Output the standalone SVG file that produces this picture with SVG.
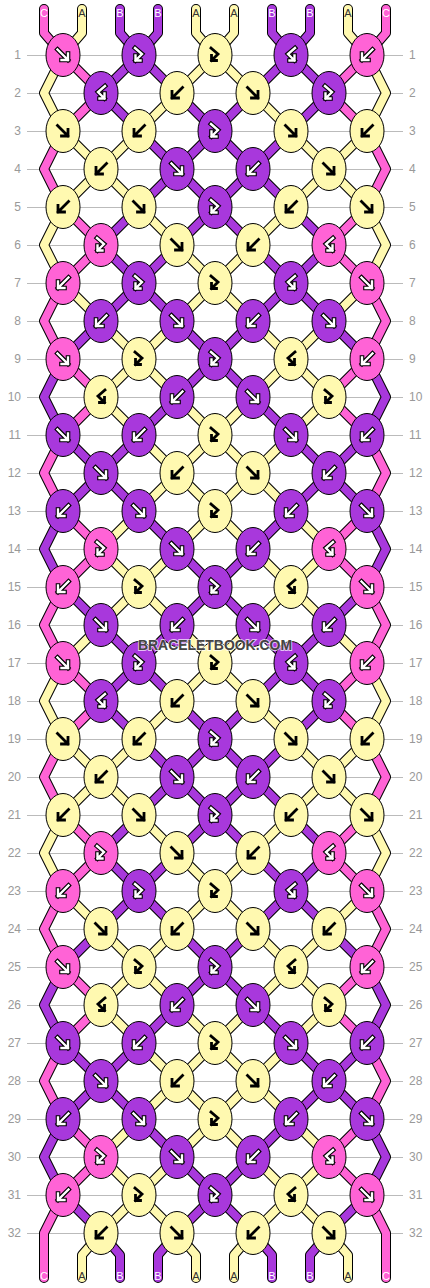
<svg xmlns="http://www.w3.org/2000/svg" xmlns:xlink="http://www.w3.org/1999/xlink" width="430" height="1288" viewBox="0 0 430 1288">
<style>
.o{fill:none;stroke:#000;stroke-width:10;stroke-linejoin:round;stroke-linecap:round}
.c{fill:none;stroke-width:8;stroke-linejoin:round;stroke-linecap:round}
.cp{stroke:#ff63d6}.cv{stroke:#a838dc}.cy{stroke:#fff9b0}
.wo{fill:none;stroke:#000;stroke-width:4.6;stroke-linecap:square}
.wi{fill:none;stroke:#fff;stroke-width:2.4;stroke-linecap:square}
.bk{fill:none;stroke:#000;stroke-width:2.8;stroke-linecap:square}
.rl{stroke:#bbb;stroke-width:1}
.num{font-family:"Liberation Sans",Arial,sans-serif;font-size:12px;fill:#999}
.sl{font-family:"Liberation Sans",Arial,sans-serif;font-size:11px;text-anchor:middle}
.lw{fill:#fff}.ld{fill:#333}
.wm{font-family:"Liberation Sans",Arial,sans-serif;font-size:15px;font-weight:bold;fill:#444;stroke:#fff;stroke-width:2;paint-order:stroke;stroke-opacity:0.7;text-anchor:middle}
</style>
<defs>
<ellipse id="e" rx="17" ry="21.5" stroke="#000" stroke-width="1"/>
<path id="aF" d="M-5.5,-5.5L5,5M5,-1.5V5H-1.5"/>
<path id="aB" d="M5.5,-5.5L-5,5M-5,-1.5V5H1.5"/>
<path id="aFB" d="M-4,-7L3,-1L-3.5,5.5M-3.5,0.5V5.5H1.5"/>
<path id="aBF" d="M4,-7L-3,-1L3.5,5.5M3.5,0.5V5.5H-1.5"/>
<g id="pF"><use href="#e" fill="#ff63d6"/><use href="#aF" class="wo"/><use href="#aF" class="wi"/></g>
<g id="pB"><use href="#e" fill="#ff63d6"/><use href="#aB" class="wo"/><use href="#aB" class="wi"/></g>
<g id="pFB"><use href="#e" fill="#ff63d6"/><use href="#aFB" class="wo"/><use href="#aFB" class="wi"/></g>
<g id="pBF"><use href="#e" fill="#ff63d6"/><use href="#aBF" class="wo"/><use href="#aBF" class="wi"/></g>
<g id="vF"><use href="#e" fill="#a838dc"/><use href="#aF" class="wo"/><use href="#aF" class="wi"/></g>
<g id="vB"><use href="#e" fill="#a838dc"/><use href="#aB" class="wo"/><use href="#aB" class="wi"/></g>
<g id="vFB"><use href="#e" fill="#a838dc"/><use href="#aFB" class="wo"/><use href="#aFB" class="wi"/></g>
<g id="vBF"><use href="#e" fill="#a838dc"/><use href="#aBF" class="wo"/><use href="#aBF" class="wi"/></g>
<g id="yF"><use href="#e" fill="#fff9b0"/><use href="#aF" class="bk"/></g>
<g id="yB"><use href="#e" fill="#fff9b0"/><use href="#aB" class="bk"/></g>
<g id="yFB"><use href="#e" fill="#fff9b0"/><use href="#aFB" class="bk"/></g>
<g id="yBF"><use href="#e" fill="#fff9b0"/><use href="#aBF" class="bk"/></g>
<polyline id="s0" points="44,9 44,33 63,55 101,93 63,131 44,169 63,207 101,245 63,283 44,321 63,359 101,397 63,435 44,473 63,511 101,549 63,587 44,625 63,663 101,701 63,739 44,777 63,815 101,853 63,891 44,929 63,967 101,1005 63,1043 44,1081 63,1119 101,1157 63,1195 44,1233 44,1278"/>
<polyline id="s1" points="82,9 82,33 63,55 44,93 63,131 101,169 139,207 177,245 215,283 177,321 139,359 177,397 215,435 177,473 139,511 101,549 139,587 101,625 63,663 44,701 63,739 101,777 139,815 177,853 215,891 177,929 139,967 177,1005 215,1043 177,1081 139,1119 101,1157 139,1195 101,1233 82,1255 82,1278"/>
<polyline id="s2" points="120,9 120,33 139,55 101,93 139,131 177,169 215,207 177,245 139,283 177,321 215,359 177,397 139,435 101,473 63,511 44,549 63,587 101,625 139,663 101,701 139,739 177,777 215,815 177,853 139,891 177,929 215,967 177,1005 139,1043 101,1081 63,1119 44,1157 63,1195 101,1233 120,1255 120,1278"/>
<polyline id="s3" points="158,9 158,33 139,55 177,93 215,131 177,169 139,207 101,245 139,283 101,321 63,359 44,397 63,435 101,473 139,511 177,549 215,587 177,625 139,663 177,701 215,739 177,777 139,815 101,853 139,891 101,929 63,967 44,1005 63,1043 101,1081 139,1119 177,1157 215,1195 177,1233 158,1255 158,1278"/>
<polyline id="s4" points="196,9 196,33 215,55 177,93 139,131 101,169 63,207 44,245 63,283 101,321 139,359 101,397 139,435 177,473 215,511 177,549 139,587 177,625 215,663 177,701 139,739 101,777 63,815 44,853 63,891 101,929 139,967 101,1005 139,1043 177,1081 215,1119 177,1157 139,1195 177,1233 196,1255 196,1278"/>
<g id="half">
<use href="#s0" class="o"/><use href="#s0" class="c cp"/>
<use href="#s1" class="o"/><use href="#s1" class="c cy"/>
<use href="#s2" class="o"/><use href="#s2" class="c cv"/>
<use href="#s3" class="o"/><use href="#s3" class="c cv"/>
<use href="#s4" class="o"/><use href="#s4" class="c cy"/>
</g>
</defs>
<rect width="430" height="1288" fill="#fff"/>
<g id="rowlines" class="rl">
<path d="M27,55.5H403M27,93.5H403M27,131.5H403M27,169.5H403M27,207.5H403M27,245.5H403M27,283.5H403M27,321.5H403M27,359.5H403M27,397.5H403M27,435.5H403M27,473.5H403M27,511.5H403M27,549.5H403M27,587.5H403M27,625.5H403M27,663.5H403M27,701.5H403M27,739.5H403M27,777.5H403M27,815.5H403M27,853.5H403M27,891.5H403M27,929.5H403M27,967.5H403M27,1005.5H403M27,1043.5H403M27,1081.5H403M27,1119.5H403M27,1157.5H403M27,1195.5H403M27,1233.5H403"/>
</g>
<g id="connectors">
<use href="#half"/>
<use href="#half" transform="matrix(-1 0 0 1 430 0)"/>
</g>
<g id="knots">
<g id="r1k1"><use href="#pF" x="63" y="55"/></g><g id="r1k2"><use href="#vFB" x="139" y="55"/></g><g id="r1k3"><use href="#yFB" x="215" y="55"/></g><g id="r1k4"><use href="#vBF" x="291" y="55"/></g><g id="r1k5"><use href="#pB" x="367" y="55"/></g>
<g id="r2k1"><use href="#vBF" x="101" y="93"/></g><g id="r2k2"><use href="#yB" x="177" y="93"/></g><g id="r2k3"><use href="#yF" x="253" y="93"/></g><g id="r2k4"><use href="#vFB" x="329" y="93"/></g>
<g id="r3k1"><use href="#yF" x="63" y="131"/></g><g id="r3k2"><use href="#yB" x="139" y="131"/></g><g id="r3k3"><use href="#vFB" x="215" y="131"/></g><g id="r3k4"><use href="#yF" x="291" y="131"/></g><g id="r3k5"><use href="#yB" x="367" y="131"/></g>
<g id="r4k1"><use href="#yB" x="101" y="169"/></g><g id="r4k2"><use href="#vF" x="177" y="169"/></g><g id="r4k3"><use href="#vB" x="253" y="169"/></g><g id="r4k4"><use href="#yF" x="329" y="169"/></g>
<g id="r5k1"><use href="#yB" x="63" y="207"/></g><g id="r5k2"><use href="#yF" x="139" y="207"/></g><g id="r5k3"><use href="#vFB" x="215" y="207"/></g><g id="r5k4"><use href="#yB" x="291" y="207"/></g><g id="r5k5"><use href="#yF" x="367" y="207"/></g>
<g id="r6k1"><use href="#pFB" x="101" y="245"/></g><g id="r6k2"><use href="#yF" x="177" y="245"/></g><g id="r6k3"><use href="#yB" x="253" y="245"/></g><g id="r6k4"><use href="#pBF" x="329" y="245"/></g>
<g id="r7k1"><use href="#pB" x="63" y="283"/></g><g id="r7k2"><use href="#vFB" x="139" y="283"/></g><g id="r7k3"><use href="#yFB" x="215" y="283"/></g><g id="r7k4"><use href="#vBF" x="291" y="283"/></g><g id="r7k5"><use href="#pF" x="367" y="283"/></g>
<g id="r8k1"><use href="#vB" x="101" y="321"/></g><g id="r8k2"><use href="#vF" x="177" y="321"/></g><g id="r8k3"><use href="#vB" x="253" y="321"/></g><g id="r8k4"><use href="#vF" x="329" y="321"/></g>
<g id="r9k1"><use href="#pF" x="63" y="359"/></g><g id="r9k2"><use href="#yFB" x="139" y="359"/></g><g id="r9k3"><use href="#vFB" x="215" y="359"/></g><g id="r9k4"><use href="#yBF" x="291" y="359"/></g><g id="r9k5"><use href="#pB" x="367" y="359"/></g>
<g id="r10k1"><use href="#yBF" x="101" y="397"/></g><g id="r10k2"><use href="#vB" x="177" y="397"/></g><g id="r10k3"><use href="#vF" x="253" y="397"/></g><g id="r10k4"><use href="#yFB" x="329" y="397"/></g>
<g id="r11k1"><use href="#vF" x="63" y="435"/></g><g id="r11k2"><use href="#vB" x="139" y="435"/></g><g id="r11k3"><use href="#yFB" x="215" y="435"/></g><g id="r11k4"><use href="#vF" x="291" y="435"/></g><g id="r11k5"><use href="#vB" x="367" y="435"/></g>
<g id="r12k1"><use href="#vF" x="101" y="473"/></g><g id="r12k2"><use href="#yB" x="177" y="473"/></g><g id="r12k3"><use href="#yF" x="253" y="473"/></g><g id="r12k4"><use href="#vB" x="329" y="473"/></g>
<g id="r13k1"><use href="#vB" x="63" y="511"/></g><g id="r13k2"><use href="#vF" x="139" y="511"/></g><g id="r13k3"><use href="#yFB" x="215" y="511"/></g><g id="r13k4"><use href="#vB" x="291" y="511"/></g><g id="r13k5"><use href="#vF" x="367" y="511"/></g>
<g id="r14k1"><use href="#pFB" x="101" y="549"/></g><g id="r14k2"><use href="#vF" x="177" y="549"/></g><g id="r14k3"><use href="#vB" x="253" y="549"/></g><g id="r14k4"><use href="#pBF" x="329" y="549"/></g>
<g id="r15k1"><use href="#pB" x="63" y="587"/></g><g id="r15k2"><use href="#yFB" x="139" y="587"/></g><g id="r15k3"><use href="#vFB" x="215" y="587"/></g><g id="r15k4"><use href="#yBF" x="291" y="587"/></g><g id="r15k5"><use href="#pF" x="367" y="587"/></g>
<g id="r16k1"><use href="#vF" x="101" y="625"/></g><g id="r16k2"><use href="#vB" x="177" y="625"/></g><g id="r16k3"><use href="#vF" x="253" y="625"/></g><g id="r16k4"><use href="#vB" x="329" y="625"/></g>
<g id="r17k1"><use href="#pF" x="63" y="663"/></g><g id="r17k2"><use href="#vFB" x="139" y="663"/></g><g id="r17k3"><use href="#yFB" x="215" y="663"/></g><g id="r17k4"><use href="#vBF" x="291" y="663"/></g><g id="r17k5"><use href="#pB" x="367" y="663"/></g>
<g id="r18k1"><use href="#vBF" x="101" y="701"/></g><g id="r18k2"><use href="#yB" x="177" y="701"/></g><g id="r18k3"><use href="#yF" x="253" y="701"/></g><g id="r18k4"><use href="#vFB" x="329" y="701"/></g>
<g id="r19k1"><use href="#yF" x="63" y="739"/></g><g id="r19k2"><use href="#yB" x="139" y="739"/></g><g id="r19k3"><use href="#vFB" x="215" y="739"/></g><g id="r19k4"><use href="#yF" x="291" y="739"/></g><g id="r19k5"><use href="#yB" x="367" y="739"/></g>
<g id="r20k1"><use href="#yB" x="101" y="777"/></g><g id="r20k2"><use href="#vF" x="177" y="777"/></g><g id="r20k3"><use href="#vB" x="253" y="777"/></g><g id="r20k4"><use href="#yF" x="329" y="777"/></g>
<g id="r21k1"><use href="#yB" x="63" y="815"/></g><g id="r21k2"><use href="#yF" x="139" y="815"/></g><g id="r21k3"><use href="#vFB" x="215" y="815"/></g><g id="r21k4"><use href="#yB" x="291" y="815"/></g><g id="r21k5"><use href="#yF" x="367" y="815"/></g>
<g id="r22k1"><use href="#pFB" x="101" y="853"/></g><g id="r22k2"><use href="#yF" x="177" y="853"/></g><g id="r22k3"><use href="#yB" x="253" y="853"/></g><g id="r22k4"><use href="#pBF" x="329" y="853"/></g>
<g id="r23k1"><use href="#pB" x="63" y="891"/></g><g id="r23k2"><use href="#vFB" x="139" y="891"/></g><g id="r23k3"><use href="#yFB" x="215" y="891"/></g><g id="r23k4"><use href="#vBF" x="291" y="891"/></g><g id="r23k5"><use href="#pF" x="367" y="891"/></g>
<g id="r24k1"><use href="#yF" x="101" y="929"/></g><g id="r24k2"><use href="#yB" x="177" y="929"/></g><g id="r24k3"><use href="#yF" x="253" y="929"/></g><g id="r24k4"><use href="#yB" x="329" y="929"/></g>
<g id="r25k1"><use href="#pF" x="63" y="967"/></g><g id="r25k2"><use href="#yFB" x="139" y="967"/></g><g id="r25k3"><use href="#vFB" x="215" y="967"/></g><g id="r25k4"><use href="#yBF" x="291" y="967"/></g><g id="r25k5"><use href="#pB" x="367" y="967"/></g>
<g id="r26k1"><use href="#yBF" x="101" y="1005"/></g><g id="r26k2"><use href="#vB" x="177" y="1005"/></g><g id="r26k3"><use href="#vF" x="253" y="1005"/></g><g id="r26k4"><use href="#yFB" x="329" y="1005"/></g>
<g id="r27k1"><use href="#vF" x="63" y="1043"/></g><g id="r27k2"><use href="#vB" x="139" y="1043"/></g><g id="r27k3"><use href="#yFB" x="215" y="1043"/></g><g id="r27k4"><use href="#vF" x="291" y="1043"/></g><g id="r27k5"><use href="#vB" x="367" y="1043"/></g>
<g id="r28k1"><use href="#vF" x="101" y="1081"/></g><g id="r28k2"><use href="#yB" x="177" y="1081"/></g><g id="r28k3"><use href="#yF" x="253" y="1081"/></g><g id="r28k4"><use href="#vB" x="329" y="1081"/></g>
<g id="r29k1"><use href="#vB" x="63" y="1119"/></g><g id="r29k2"><use href="#vF" x="139" y="1119"/></g><g id="r29k3"><use href="#yFB" x="215" y="1119"/></g><g id="r29k4"><use href="#vB" x="291" y="1119"/></g><g id="r29k5"><use href="#vF" x="367" y="1119"/></g>
<g id="r30k1"><use href="#pFB" x="101" y="1157"/></g><g id="r30k2"><use href="#vF" x="177" y="1157"/></g><g id="r30k3"><use href="#vB" x="253" y="1157"/></g><g id="r30k4"><use href="#pBF" x="329" y="1157"/></g>
<g id="r31k1"><use href="#pB" x="63" y="1195"/></g><g id="r31k2"><use href="#yFB" x="139" y="1195"/></g><g id="r31k3"><use href="#vFB" x="215" y="1195"/></g><g id="r31k4"><use href="#yBF" x="291" y="1195"/></g><g id="r31k5"><use href="#pF" x="367" y="1195"/></g>
<g id="r32k1"><use href="#yB" x="101" y="1233"/></g><g id="r32k2"><use href="#yF" x="177" y="1233"/></g><g id="r32k3"><use href="#yB" x="253" y="1233"/></g><g id="r32k4"><use href="#yF" x="329" y="1233"/></g>
</g>
<g id="stringlabels" class="sl">
<text x="44" y="17" class="lw">C</text><text x="82" y="17" class="ld">A</text><text x="120" y="17" class="lw">B</text><text x="158" y="17" class="lw">B</text><text x="196" y="17" class="ld">A</text><text x="234" y="17" class="ld">A</text><text x="272" y="17" class="lw">B</text><text x="310" y="17" class="lw">B</text><text x="348" y="17" class="ld">A</text><text x="386" y="17" class="lw">C</text>
<text x="44" y="1280" class="lw">C</text><text x="82" y="1280" class="ld">A</text><text x="120" y="1280" class="lw">B</text><text x="158" y="1280" class="lw">B</text><text x="196" y="1280" class="ld">A</text><text x="234" y="1280" class="ld">A</text><text x="272" y="1280" class="lw">B</text><text x="310" y="1280" class="lw">B</text><text x="348" y="1280" class="ld">A</text><text x="386" y="1280" class="lw">C</text>
</g>
<g id="rownumbers" class="num">
<g text-anchor="end">
<text x="21" y="59">1</text><text x="21" y="97">2</text><text x="21" y="135">3</text><text x="21" y="173">4</text><text x="21" y="211">5</text><text x="21" y="249">6</text><text x="21" y="287">7</text><text x="21" y="325">8</text><text x="21" y="363">9</text><text x="21" y="401">10</text><text x="21" y="439">11</text><text x="21" y="477">12</text><text x="21" y="515">13</text><text x="21" y="553">14</text><text x="21" y="591">15</text><text x="21" y="629">16</text><text x="21" y="667">17</text><text x="21" y="705">18</text><text x="21" y="743">19</text><text x="21" y="781">20</text><text x="21" y="819">21</text><text x="21" y="857">22</text><text x="21" y="895">23</text><text x="21" y="933">24</text><text x="21" y="971">25</text><text x="21" y="1009">26</text><text x="21" y="1047">27</text><text x="21" y="1085">28</text><text x="21" y="1123">29</text><text x="21" y="1161">30</text><text x="21" y="1199">31</text><text x="21" y="1237">32</text>
</g>
<g>
<text x="409" y="59">1</text><text x="409" y="97">2</text><text x="409" y="135">3</text><text x="409" y="173">4</text><text x="409" y="211">5</text><text x="409" y="249">6</text><text x="409" y="287">7</text><text x="409" y="325">8</text><text x="409" y="363">9</text><text x="409" y="401">10</text><text x="409" y="439">11</text><text x="409" y="477">12</text><text x="409" y="515">13</text><text x="409" y="553">14</text><text x="409" y="591">15</text><text x="409" y="629">16</text><text x="409" y="667">17</text><text x="409" y="705">18</text><text x="409" y="743">19</text><text x="409" y="781">20</text><text x="409" y="819">21</text><text x="409" y="857">22</text><text x="409" y="895">23</text><text x="409" y="933">24</text><text x="409" y="971">25</text><text x="409" y="1009">26</text><text x="409" y="1047">27</text><text x="409" y="1085">28</text><text x="409" y="1123">29</text><text x="409" y="1161">30</text><text x="409" y="1199">31</text><text x="409" y="1237">32</text>
</g>
</g>
<text id="watermark" class="wm" x="215" y="650" textLength="154" lengthAdjust="spacingAndGlyphs">BRACELETBOOK.COM</text>
</svg>
